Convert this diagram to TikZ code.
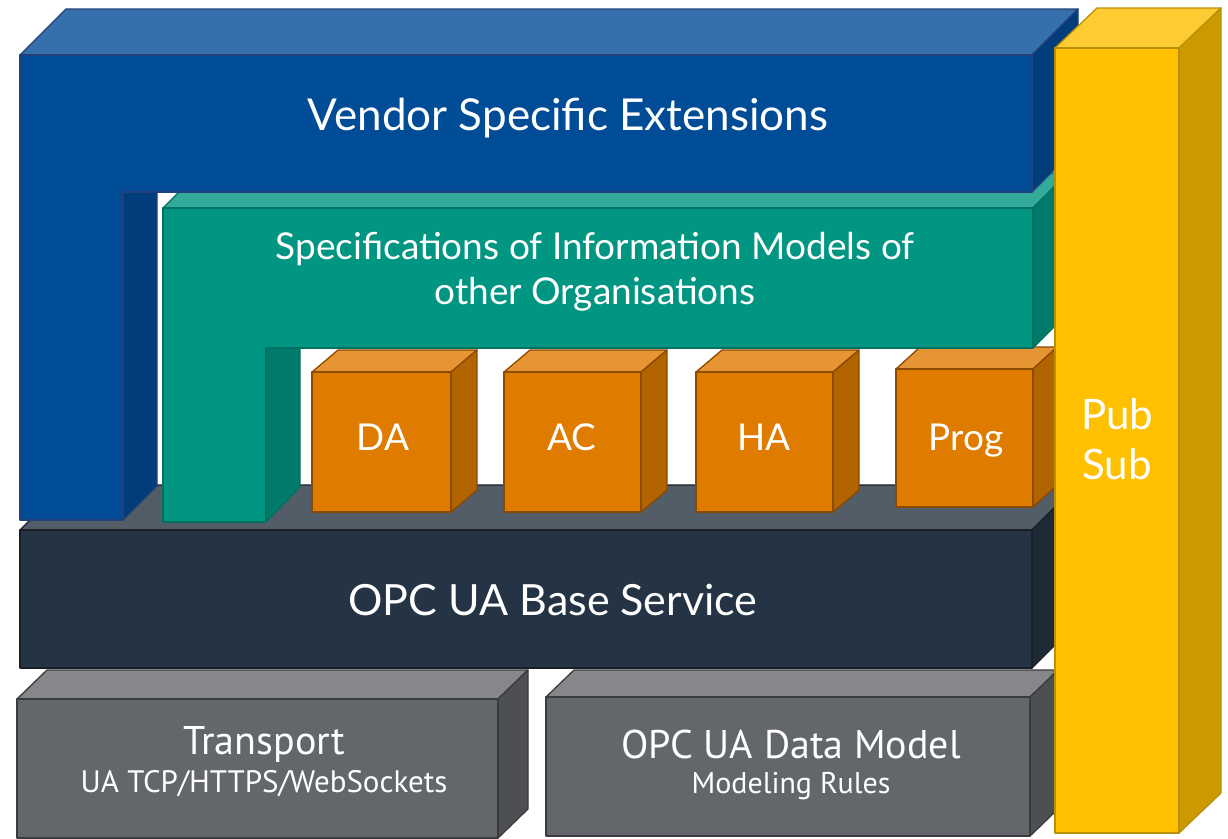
\documentclass[tikz,border=0pt]{standalone}
\usepackage{fontspec}
\setmainfont{Lato}
\newfontfamily\lowfont{PT Sans}
\definecolor{bluef}{HTML}{004C97}
\definecolor{bluet}{HTML}{3570AC}
\definecolor{blues}{HTML}{003D7A}
\definecolor{blueo}{HTML}{22407A}
\definecolor{greenf}{HTML}{009682}
\definecolor{greent}{HTML}{33AB9B}
\definecolor{greens}{HTML}{007A6A}
\definecolor{greeno}{HTML}{00705F}
\definecolor{orangef}{HTML}{DF7C00}
\definecolor{oranget}{HTML}{E59533}
\definecolor{oranges}{HTML}{B26400}
\definecolor{orangeo}{HTML}{8C4A00}
\definecolor{navyf}{HTML}{243444}
\definecolor{navyt}{HTML}{525D68}
\definecolor{navys}{HTML}{1E2A36}
\definecolor{navyo}{HTML}{1A1F26}
\definecolor{greyf}{HTML}{63666A}
\definecolor{greyt}{HTML}{85878A}
\definecolor{greys}{HTML}{4D4F53}
\definecolor{greyo}{HTML}{3A3B3D}
\definecolor{yellowf}{HTML}{FFC000}
\definecolor{yellowt}{HTML}{FFCB33}
\definecolor{yellows}{HTML}{CC9A00}
\definecolor{yellowo}{HTML}{B8900A}
\tikzset{
  bluefront/.style={fill=bluef,draw=blueo,line width=1.3pt},
  bluetop/.style={fill=bluet,draw=blueo,line width=1.3pt},
  blueside/.style={fill=blues,draw=blueo,line width=1.3pt},
  greenfront/.style={fill=greenf,draw=greeno,line width=1.3pt},
  greentop/.style={fill=greent,draw=greeno,line width=1.3pt},
  greenside/.style={fill=greens,draw=greeno,line width=1.3pt},
  orangefront/.style={fill=orangef,draw=orangeo,line width=1.3pt},
  orangetop/.style={fill=oranget,draw=orangeo,line width=1.3pt},
  orangeside/.style={fill=oranges,draw=orangeo,line width=1.3pt},
  navyfront/.style={fill=navyf,draw=navyo,line width=1.3pt},
  navytop/.style={fill=navyt,draw=navyo,line width=1.3pt},
  navyside/.style={fill=navys,draw=navyo,line width=1.3pt},
  greyfront/.style={fill=greyf,draw=greyo,line width=1.3pt},
  greytop/.style={fill=greyt,draw=greyo,line width=1.3pt},
  greyside/.style={fill=greys,draw=greyo,line width=1.3pt},
  yellowfront/.style={fill=yellowf,draw=yellowo,line width=1.3pt},
  yellowtop/.style={fill=yellowt,draw=yellowo,line width=1.3pt},
  yellowside/.style={fill=yellows,draw=yellowo,line width=1.3pt},
  lbl/.style={text=white,inner sep=0pt,align=center},
}
% box: x1,y1 (front top-left), x2,y2 (front bottom-right), dx, dy (depth), colour prefix
\newcommand\mybox[7]{%
  \path[#7top] (#1,#2) -- (#1+#5,#2-#6) -- (#3+#5,#2-#6) -- (#3,#2) -- cycle;
  \path[#7side] (#3,#2) -- (#3+#5,#2-#6) -- (#3+#5,#4-#6) -- (#3,#4) -- cycle;
  \path[#7front] (#1,#2) rectangle (#3,#4);
}
\begin{document}
\begin{tikzpicture}[x=1pt,y=-1pt,line join=round]
\useasboundingbox (0,0) rectangle (1228,838);
\fill[white] (0,0) rectangle (1228,838);
% bottom boxes
\mybox{17}{699}{498}{838}{30}{29}{grey}
\mybox{546}{697}{1030}{836}{28}{27}{grey}
% base service
\mybox{20}{530}{1032}{668}{45}{45}{navy}
% orange boxes
\mybox{312}{372}{451}{512}{26}{22}{orange}
\mybox{504}{372}{641}{512}{26}{22}{orange}
\mybox{696}{372}{833}{512}{26}{22}{orange}
\mybox{896}{369}{1033}{507}{24}{22}{orange}
% green L
\path[greentop] (163,208) -- (198,173) -- (1068,173) -- (1033,208) -- cycle;
\path[greenside] (1033,208) -- (1068,173) -- (1068,313) -- (1033,348) -- cycle;
\path[greenside] (266,348) -- (300,348) -- (300,487) -- (266,522) -- cycle;
\path[greenfront] (163,208) -- (1033,208) -- (1033,348) -- (266,348) -- (266,522) -- (163,522) -- cycle;
% blue L
\path[bluetop] (20,55) -- (66,9) -- (1078,9) -- (1032,55) -- cycle;
\path[blueside] (1032,55) -- (1078,9) -- (1078,146) -- (1032,192) -- cycle;
\path[blueside] (123,192) -- (157,192) -- (157,486) -- (123,520) -- cycle;
\path[bluefront] (20,55) -- (1032,55) -- (1032,192) -- (123,192) -- (123,520) -- (20,520) -- cycle;
% pub sub
\mybox{1055}{48}{1179}{833}{42}{40}{yellow}
% labels
\node[lbl,font=\fontsize{44}{50}\selectfont] (vse) at (568,118) {Vendor Specific Extensions};
\node[lbl,font=\fontsize{37}{45}\selectfont] (spec) at (595,272) {Specifications of Information Models of\\other Organisations};
\node[lbl,font=\fontsize{37}{40}\selectfont] (da) at (383,437) {DA};
\node[lbl,font=\fontsize{37}{40}\selectfont] (ac) at (572,437) {AC};
\node[lbl,font=\fontsize{37}{40}\selectfont] (ha) at (764,437) {HA};
\node[lbl,font=\fontsize{37}{40}\selectfont] (prog) at (966,441) {Prog};
\node[lbl,font=\fontsize{42}{50}\selectfont] (pubsub) at (1117,439) {Pub\\Sub};
\node[lbl,font=\fontsize{43}{48}\selectfont] (base) at (553,600) {OPC UA Base Service};
\node[lbl,font=\lowfont\fontsize{40}{40}\selectfont] (tr) at (264,744) {Transport};
\node[lbl,font=\lowfont\fontsize{31}{32}\selectfont] (trs) at (264,784) {UA TCP/HTTPS/WebSockets};
\node[lbl,font=\lowfont\fontsize{40}{40}\selectfont] (dm) at (791,744) {OPC UA Data Model};
\node[lbl,font=\lowfont\fontsize{30}{32}\selectfont] (dms) at (791,786) {Modeling Rules};
\end{tikzpicture}
\end{document}
